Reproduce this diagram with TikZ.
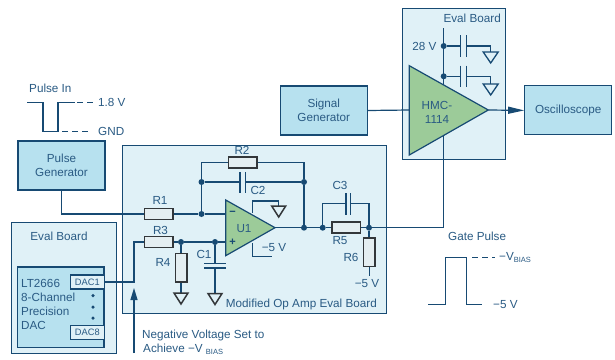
\documentclass[tikz,border=0pt]{standalone}
\usepackage{fontspec}
\setmainfont{Liberation Sans}
\usetikzlibrary{arrows.meta}
\definecolor{navy}{HTML}{174A73}
\definecolor{txt}{HTML}{2A5B84}
\definecolor{boxfill}{HTML}{B7E1EF}
\definecolor{panelfill}{HTML}{E0F1F7}
\definecolor{ampfill}{HTML}{9CCB99}
\definecolor{resedge}{HTML}{33373A}
\definecolor{resfill}{HTML}{E4EEF1}
\newcommand{\subs}[1]{\raisebox{-2.2pt}{\fontsize{7.5}{8}\selectfont #1}}
\tikzset{
  wire/.style={draw=navy,line width=1.2pt},
  panel/.style={draw=navy,line width=0.9pt,fill=panelfill,inner sep=0pt},
  block/.style={draw=navy,line width=1.1pt,fill=boxfill,inner sep=0pt,align=center,text=txt,font=\fontsize{11.7}{14}\selectfont},
  dacbox/.style={draw=navy,line width=1.1pt,fill=panelfill,inner sep=0pt,minimum width=33.5pt,minimum height=14pt,text=txt,font=\fontsize{9.3}{11}\selectfont},
  lab/.style={text=txt,inner sep=0pt,align=center,font=\fontsize{11.7}{14}\selectfont},
  lableft/.style={lab,align=left,anchor=west},
  resh/.style={draw=resedge,line width=1.5pt,fill=resfill,minimum width=28.5pt,minimum height=11pt,inner sep=0pt},
  resv/.style={draw=resedge,line width=1.5pt,fill=resfill,minimum width=11.5pt,minimum height=28.5pt,inner sep=0pt},
  dot/.style={circle,fill=navy,minimum size=6pt,inner sep=0pt},
  smalldot/.style={circle,fill=navy,minimum size=3.5pt,inner sep=0pt},
  amp/.style={draw=navy,line width=1.2pt,fill=ampfill,line join=miter},
  gnd/.pic={\draw[draw=resedge,line width=1.5pt,line join=miter] (-7,0) -- (7,0) -- (0,11) -- cycle;},
  gndb/.pic={\draw[draw=navy,line width=1.3pt,line join=miter] (-7.5,0) -- (7.5,0) -- (0,11) -- cycle;},
  dashw/.style={draw=navy,line width=1.2pt,dash pattern=on 6pt off 4pt},
  capplate/.style={draw=navy,line width=1.3pt},
}
\begin{document}
\begin{tikzpicture}[x=1pt,y=-1pt]
\useasboundingbox (0,0) rectangle (615,359);
\fill[white] (0,0) rectangle (615,359);
% panels
\node[panel,minimum width=263.5pt,minimum height=168pt] (opboard) at (254.25,229) {};
\node[panel,minimum width=104.3pt,minimum height=130.3pt] (leftboard) at (63.85,287.85) {};
\node[panel,minimum width=102.3pt,minimum height=151pt] (rightboard) at (453.85,83.5) {};
% blocks
\node[block,minimum width=87pt,minimum height=49pt] (pulsegen) at (61.5,165.5) {Pulse\\Generator};
\node[block,minimum width=87pt,minimum height=49pt] (siggen) at (323.8,110.5) {Signal\\Generator};
\node[block,minimum width=87pt,minimum height=49pt] (scope) at (568.2,110.4) {Oscilloscope};
\node[block,minimum width=86.7pt,minimum height=80.7pt] (dacchip) at (60.65,307.35) {};
\node[dacbox] (dac1) at (87.35,282) {DAC1};
\node[dacbox] (dac8) at (87.35,332.3) {DAC8};
% named points
\coordinate (ampA) at (225.7,200);
\coordinate (ampB) at (225.7,255.7);
\coordinate (ampO) at (275,227.7);
\coordinate (inM) at (225.7,214);
\coordinate (inP) at (225.7,242);
\coordinate (hA) at (409.3,65.7);
\coordinate (hB) at (409.3,155);
\coordinate (hO) at (488.3,110);
\coordinate (hIn) at (409.3,110);
\coordinate (hTop) at (443.7,85);
\coordinate (hBot) at (443.7,136);
% components
\node[resh] (R1) at (158.5,214) {};
\node[resh] (R2) at (242.5,162.5) {};
\node[resh] (R3) at (158.5,242) {};
\node[resv] (R4) at (181,267.5) {};
\node[resh] (R5) at (346.3,227.7) {};
\node[resv] (R6) at (369,252) {};
% junctions
\node[dot] (j1) at (201.5,214) {};
\node[dot] (j2) at (201.5,182) {};
\node[dot] (j3) at (304,182) {};
\node[dot] (j4) at (304,227.7) {};
\node[dot] (j5) at (322.7,227.7) {};
\node[dot] (j6) at (369,227.7) {};
\node[dot] (j7) at (181,242) {};
\node[dot] (j8) at (215,242) {};
\node[dot] (j9) at (443.7,46) {};
\node[dot] (j10) at (443.7,76.3) {};
% free points
\coordinate (c2l) at (240,182);
\coordinate (c2r) at (245.3,182);
\coordinate (c1t) at (215,263.3);
\coordinate (c1b) at (215,268);
\coordinate (c3l) at (346,203.3);
\coordinate (c3r) at (350.7,203.3);
\coordinate (g4) at (181,293);
\coordinate (g1) at (215,293.5);
\coordinate (gU) at (278.7,206);
\coordinate (vpU) at (252.7,201);
\coordinate (vpUs) at (252.7,212.5);
\coordinate (vnU) at (252.7,256.7);
\coordinate (vnUs) at (252.7,243);
\coordinate (vnUe) at (272,256.7);
\coordinate (r6e) at (369,276);
\coordinate (p28) at (443.7,28);
\coordinate (c4l) at (460.7,46);
\coordinate (c4r) at (466.7,46);
\coordinate (c5l) at (460.7,76.3);
\coordinate (c5r) at (466.7,76.3);
\coordinate (g5) at (490.7,52);
\coordinate (g6) at (490.7,84);
\coordinate (arrS) at (134,353);
\coordinate (arrE) at (134,288);
% wires
\draw[wire] (pulsegen.south) -- (61.5,214) -- (R1.west);
\draw[wire] (R1.east) -- (j1) -- (inM);
\draw[wire] (j1) -- (201.5,162.5) -- (R2.west);
\draw[wire] (R2.east) -- (304,162.5) -- (j3) -- (j4);
\draw[wire] (j2) -- (c2l) (c2r) -- (j3);
\draw[wire] (dac1.east) -- (134,282) -- (134,242) -- (R3.west);
\draw[wire] (R3.east) -- (j7) -- (j8) -- (inP);
\draw[wire] (j7) -- (R4.north);
\draw[wire] (R4.south) -- (g4);
\draw[wire] (j8) -- (c1t) (c1b) -- (g1);
\draw[wire] (vpUs) -- (vpU) -- (278.7,201) -- (gU);
\draw[wire] (vnUs) -- (vnU) -- (vnUe);
\draw[wire] (ampO) -- (j4) -- (j5) -- (R5.west);
\draw[wire] (R5.east) -- (j6) -- (443.7,227.7) -- (hBot);
\draw[wire] (j5) -- (322.7,203.3) -- (c3l) (c3r) -- (369,203.3) -- (j6);
\draw[wire] (j6) -- (R6.north);
\draw[wire,line width=0.8pt] (R6.south) -- (r6e);
\draw[wire] (siggen.east) -- (hIn);
\draw[wire,-{Triangle[length=16pt,width=7pt]}] (hO) -- (scope.west);
\draw[wire] (p28) -- (hTop);
\draw[wire] (j9) -- (c4l) (c4r) -- (490.7,46) -- (g5);
\draw[wire] (j10) -- (c5l) (c5r) -- (490.7,76.3) -- (g6);
\draw[wire,-{Triangle[length=12pt,width=7pt]}] (arrS) -- (arrE);
% capacitor plates
\draw[capplate] (240,172) -- (240,193) (245.3,172) -- (245.3,193);
\draw[capplate] (204,263.3) -- (226,263.3) (204,268) -- (226,268);
\draw[capplate] (346,193) -- (346,215) (350.7,193) -- (350.7,215);
\draw[capplate] (460.7,35) -- (460.7,57) (466.7,35) -- (466.7,57);
\draw[capplate] (460.7,65.7) -- (460.7,87.3) (466.7,65.7) -- (466.7,87.3);
% grounds
\pic at (g4) {gnd};
\pic at (g1) {gnd};
\pic at (gU) {gnd};
\pic at (g5) {gndb};
\pic at (g6) {gndb};
% amplifiers
\draw[amp] (ampA) -- (ampO) -- (ampB) -- cycle;
\draw[amp] (hA) -- (hO) -- (hB) -- cycle;
\node[inner sep=0pt,text=navy,font=\bfseries\fontsize{11}{12}\selectfont] (minus) at (232.5,213) {−};
\node[inner sep=0pt,text=navy,font=\bfseries\fontsize{11}{12}\selectfont] (plus) at (232.5,242) {+};
\node[lab] (u1) at (244,228.5) {U1};
\node[lab] (hmc) at (437,112) {HMC-\\1114};
% labels
\node[lab] (lR1) at (160,200) {R1};
\node[lab] (lR2) at (242,150) {R2};
\node[lab] (lR3) at (160.5,230.5) {R3};
\node[lab] (lR4) at (163,262) {R4};
\node[lab] (lR5) at (340,241) {R5};
\node[lab] (lR6) at (351,257) {R6};
\node[lab] (lC1) at (204,254) {C1};
\node[lab] (lC2) at (258,190) {C2};
\node[lab] (lC3) at (340,185.5) {C3};
\node[lab] (l5a) at (274,247.5) {−5 V};
\node[lab] (l5b) at (367,284) {−5 V};
\node[lab,anchor=east] (lmod) at (377,304.5) {Modified Op Amp Eval Board};
\node[lab] (leb) at (59,236) {Eval Board};
\node[lab,anchor=east] (reb) at (501,18) {Eval Board};
\node[lab] (l28) at (424.5,46.5) {28 V};
\node[lableft] (lpi) at (29,88.5) {Pulse In};
\node[lableft] (l18) at (98,102.5) {1.8 V};
\node[lableft] (lgnd) at (98,131.5) {GND};
\node[lableft,anchor=north west] (ldac) at (21,279.5) {\fontsize{11.7}{14.3}\selectfont LT2666\\8-Channel\\Precision\\DAC};
\node[smalldot] (d1) at (93,295.5) {};
\node[smalldot] (d2) at (93,307) {};
\node[smalldot] (d3) at (93,318) {};
\node[lableft] (neg1) at (142,335) {Negative Voltage Set to};
\node[lableft] (neg2) at (143,349.5) {Achieve −V \subs{BIAS}};
\node[lableft] (gp) at (448,236) {Gate Pulse};
\node[lableft] (vb) at (499,257.5) {−V\subs{BIAS}};
\node[lableft] (v5) at (493,304.5) {−5 V};
% pulse shapes
\coordinate (pi0) at (27,102.5);
\coordinate (pi1) at (75,102.5);
\coordinate (gp0) at (428,304.3);
\coordinate (gp1) at (482.3,304.3);
\draw[wire,line join=miter] (pi0) -- (43,102.5) -- (43,131.5) -- (58,131.5) -- (58,102.5) -- (pi1);
\draw[dashw] (77,102.5) -- (94,102.5);
\draw[dashw] (62,131.5) -- (88,131.5);
\draw[wire,line join=miter] (gp0) -- (445.7,304.3) -- (445.7,257.7) -- (466.3,257.7) -- (466.3,304.3) -- (gp1);
\draw[dashw] (472,257.7) -- (495,257.7);
\end{tikzpicture}
\end{document}
